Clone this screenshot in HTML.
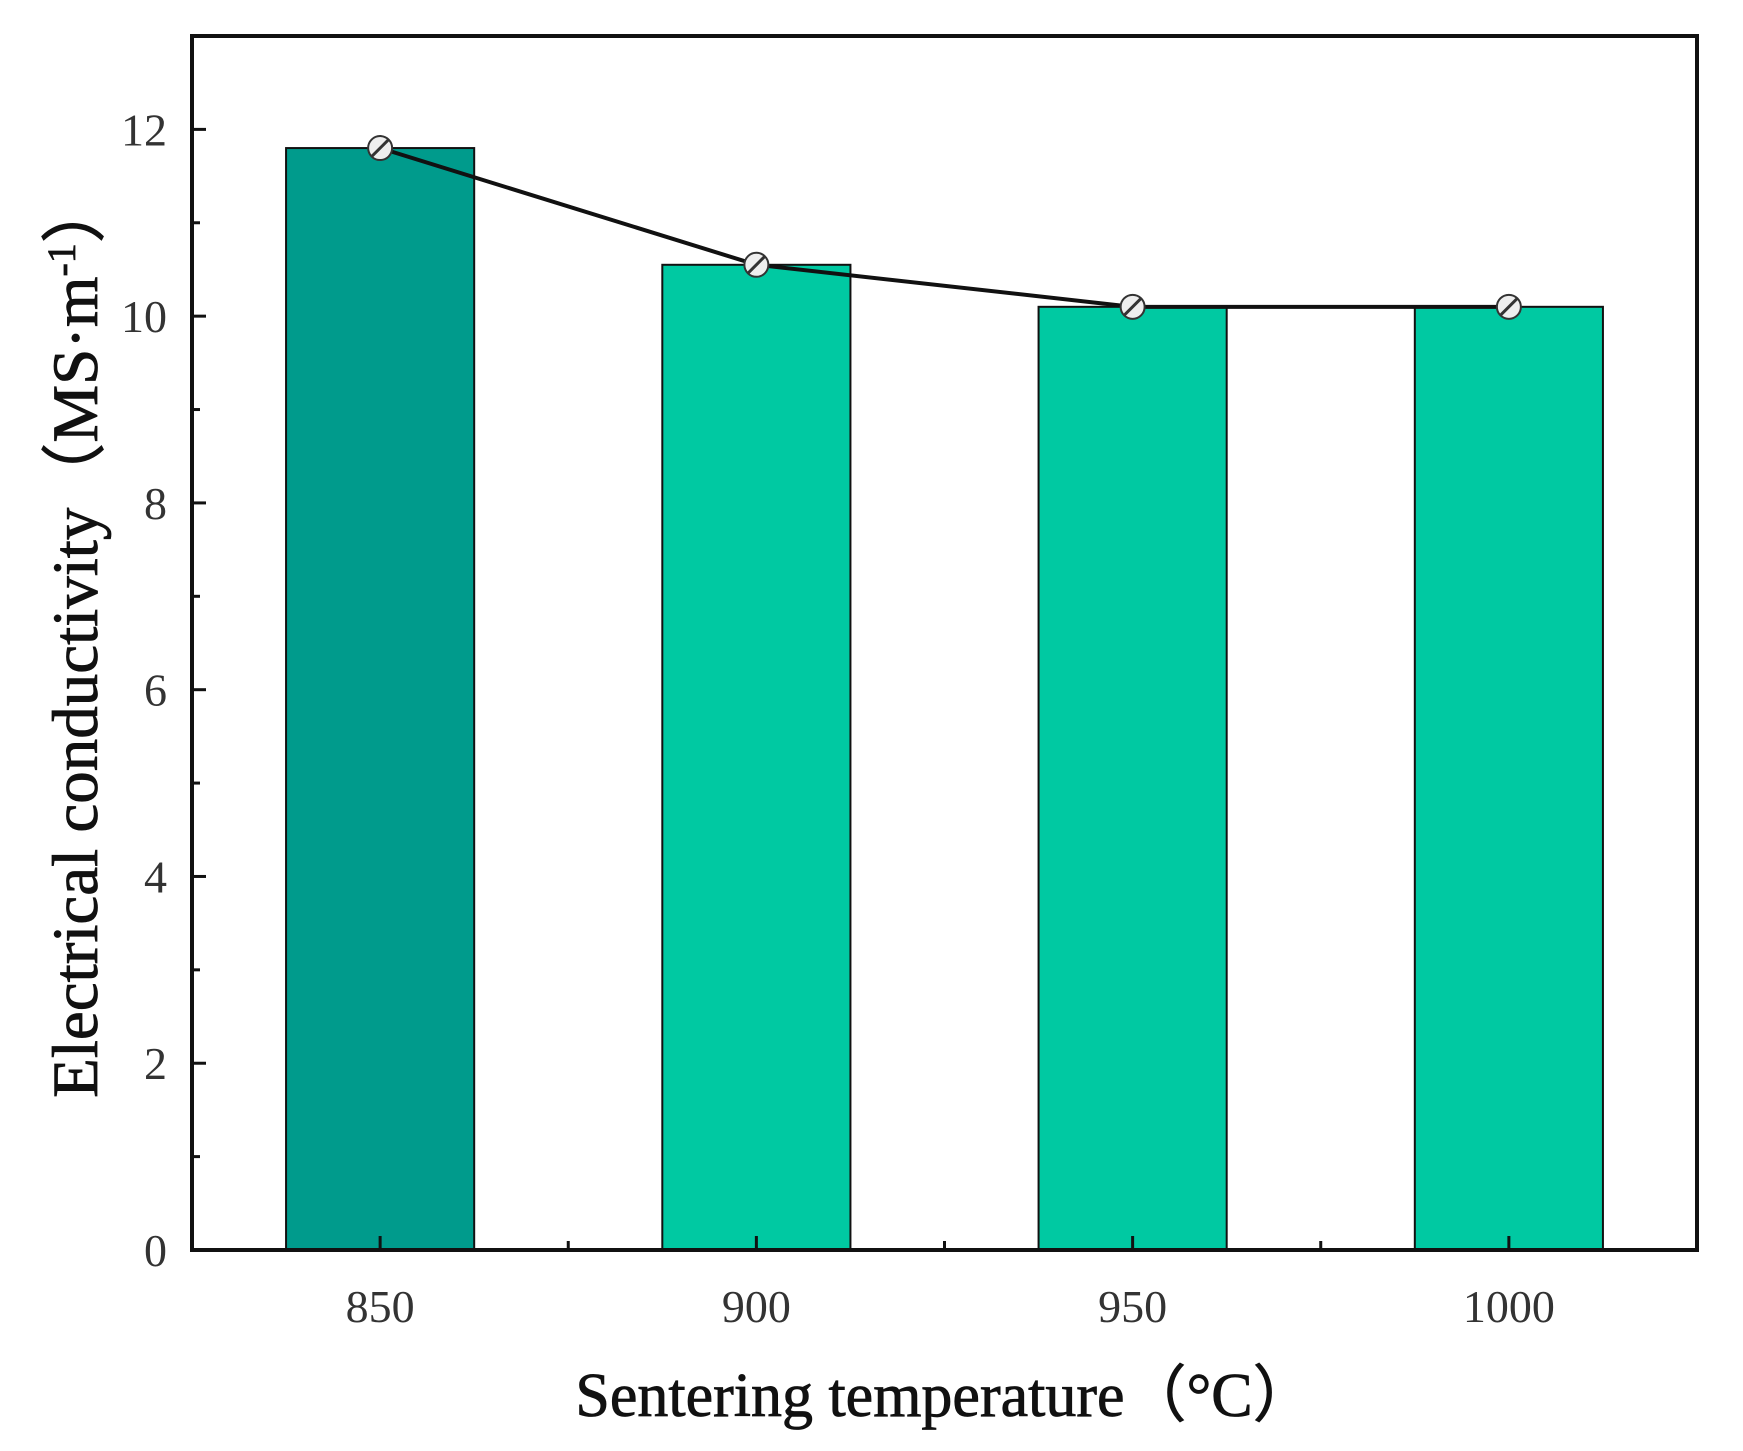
<!DOCTYPE html>
<html><head><meta charset="utf-8"><style>body{margin:0;background:#fff}svg{display:block}</style></head>
<body>
<svg id="chart" width="1743" height="1451" xmlns="http://www.w3.org/2000/svg" font-family="Liberation Serif, serif">
<g id="bars"></g><g id="line"></g><g id="axes"></g>
<text x="945" y="1416" font-size="62" text-anchor="middle" fill="#111" stroke="#111" stroke-width="0.8">Sentering temperature（°C）</text>
<text transform="translate(97,638) rotate(-90)" font-size="65" text-anchor="middle" fill="#111" stroke="#111" stroke-width="0.8">Electrical conductivity（MS·m<tspan dy="-22" font-size="40">-1</tspan><tspan dy="22">）</tspan></text>
</svg>
<script>
const categories = ["850","900","950","1000"];
const values = [11.8, 10.55, 10.1, 10.1];
const yTicks = [0,2,4,6,8,10,12];
const L=192,R=1697,T=36,B=1250,yMax=13;
const NS="http://www.w3.org/2000/svg";
const step=(R-L)/categories.length;
const xS=i=>L+step*(i+0.5);
const yS=v=>B-(B-T)*v/yMax;
function mk(tag,attrs,parent){const e=document.createElementNS(NS,tag);for(const k in attrs)e.setAttribute(k,attrs[k]);parent.appendChild(e);return e;}
const bars=document.getElementById('bars'),line=document.getElementById('line'),axes=document.getElementById('axes');
values.forEach((v,i)=>{
  const w=step*0.5;
  const r=mk('rect',{x:xS(i)-w/2,y:yS(v),width:w,height:B-yS(v),fill:i===0?'#009b8c':'#00c9a2',stroke:'#111','stroke-width':2},bars);
  
  
});
const pl=mk('polyline',{points:values.map((v,i)=>xS(i)+','+yS(v)).join(' '),fill:'none',stroke:'#111','stroke-width':4},line);


values.forEach((v,i)=>{
  const g=mk('g',{},line);
  
  
  mk('circle',{cx:xS(i),cy:yS(v),r:12,fill:'#eee',stroke:'#333','stroke-width':2},g);
  mk('line',{x1:xS(i)-8,y1:yS(v)+8,x2:xS(i)+8,y2:yS(v)-8,stroke:'#333','stroke-width':3},g);
});
const fr=mk('rect',{x:L,y:T,width:R-L,height:B-T,fill:'none',stroke:'#111','stroke-width':4},axes);


for(let v=0;v<=yMax;v++){
  const y=yS(v);
  mk('line',{x1:L,y1:y,x2:L+(v%2===0?14:8),y2:y,stroke:'#111','stroke-width':3},axes);
}
yTicks.forEach(v=>{
  const t=mk('text',{x:167,y:yS(v)+16,'font-size':46,'text-anchor':'end',fill:'#333'},axes);
  t.textContent=v;
  
  
});
categories.forEach((c,i)=>{
  mk('line',{x1:xS(i),y1:B,x2:xS(i),y2:B-14,stroke:'#111','stroke-width':3},axes);
  if(i<categories.length-1) mk('line',{x1:xS(i)+step/2,y1:B,x2:xS(i)+step/2,y2:B-9,stroke:'#111','stroke-width':3},axes);
  const t=mk('text',{x:xS(i),y:1322,'font-size':46,'text-anchor':'middle',fill:'#333'},axes);
  t.textContent=c;
  
  
});
</script>
</body></html>
